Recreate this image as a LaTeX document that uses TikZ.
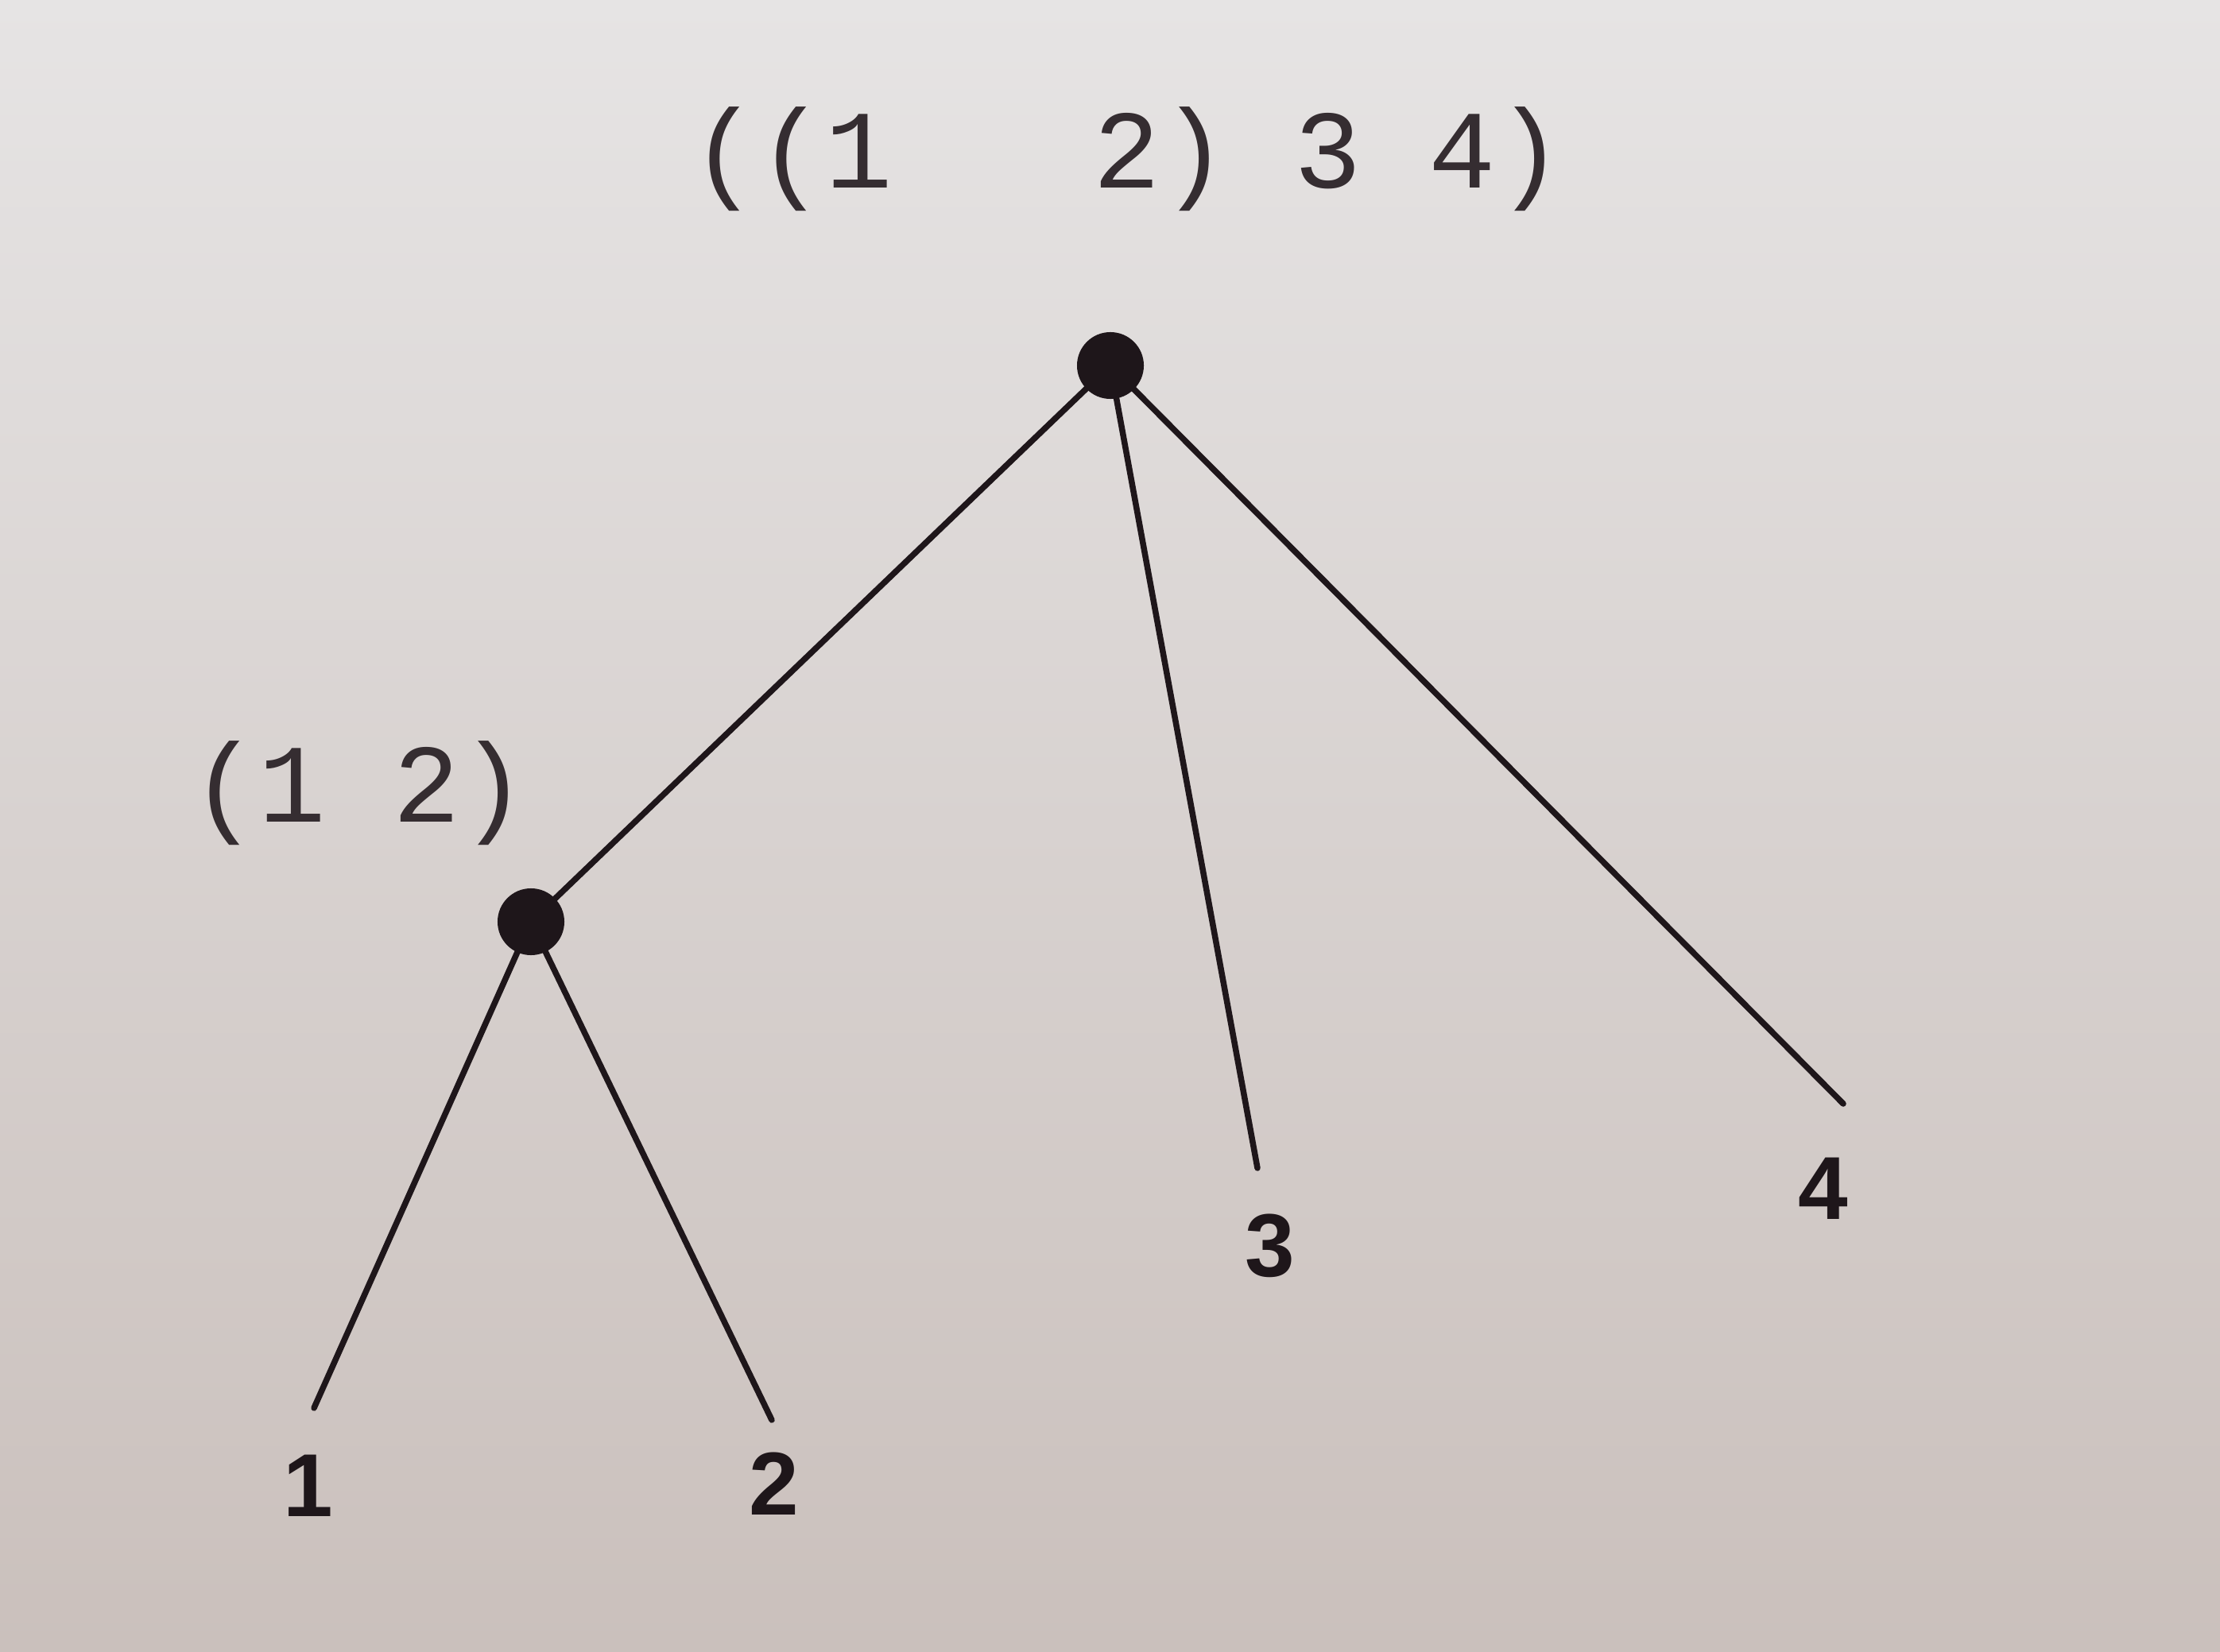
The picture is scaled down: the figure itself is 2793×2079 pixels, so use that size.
\documentclass[tikz,border=0pt]{standalone}
\usepackage{fontspec}
\setmainfont{Liberation Sans}
\newfontfamily\codefont{Liberation Mono}
\definecolor{ink}{RGB}{30,22,26}
\definecolor{papertop}{RGB}{230,228,228}
\definecolor{paperbot}{RGB}{202,192,188}
\begin{document}
\begin{tikzpicture}[x=0.01cm,y=-0.01cm,
  dot/.style={circle,fill=ink,draw=none,minimum size=0.84cm,inner sep=0pt},
  edge/.style={draw=ink,line width=0.075cm,line cap=round},
  codelabel/.style={text=ink!90,font=\codefont\fontsize{40}{42}\selectfont,inner sep=0pt},
  leaflabel/.style={text=ink,font=\bfseries\fontsize{32}{34}\selectfont,inner sep=0pt}]
  \shade[top color=papertop,bottom color=paperbot] (0,0) rectangle (2793,2079);
  \useasboundingbox (0,0) rectangle (2793,2079);
  % nodes
  \node[dot] (root) at (1397,460) {};
  \node[dot] (left) at (668,1160) {};
  \coordinate (e1) at (395,1772);
  \coordinate (e2) at (971,1787);
  \coordinate (e3) at (1582,1470);
  \coordinate (e4) at (2319,1389);
  % edges
  \draw[edge] (root.center) -- (left.center);
  \draw[edge] (root.center) -- (e3);
  \draw[edge] (root.center) -- (e4);
  \draw[edge] (left.center) -- (e1);
  \draw[edge] (left.center) -- (e2);
  % labels
  \node[codelabel] (toplab) at (1418,200) {((1\ \ \ 2) 3 4)};
  \node[codelabel] (leftlab) at (452,998) {(1 2)};
  \node[leaflabel] (l1) at (388,1870) {1};
  \node[leaflabel] (l2) at (974,1867) {2};
  \node[leaflabel] (l3) at (1598,1568) {3};
  \node[leaflabel] (l4) at (2294,1496) {4};
\end{tikzpicture}
\end{document}
